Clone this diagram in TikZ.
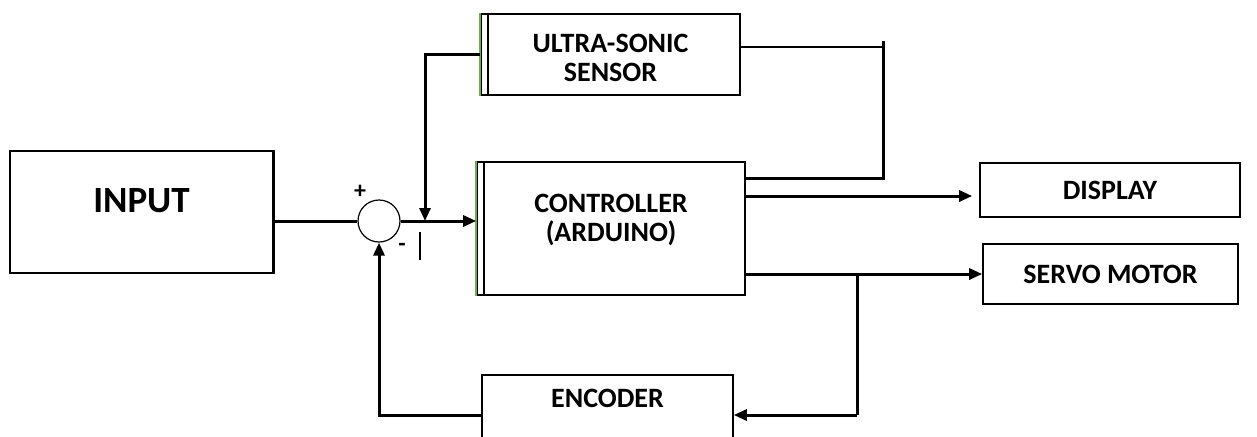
\documentclass[tikz,border=0pt]{standalone}
\usepackage{fontspec}
\setmainfont{Carlito}
\usepackage{xcolor}
\usetikzlibrary{arrows.meta}
\definecolor{edgegreen}{HTML}{70AD47}

\begin{document}
\begin{tikzpicture}[x=0.5pt,y=-0.5pt,
    block/.style={draw, line width=0.8pt, inner sep=0pt, align=center,
        font=\bfseries\fontsize{14}{14.75}\selectfont},
    link/.style={line width=1.5pt},
    arr/.style={link, -{Triangle[length=6.5pt,width=5.5pt]}},
    greenedge/.style={edgegreen, line width=1.2pt}]
                    \useasboundingbox (0,0) rectangle (1257,436);

                    % Blocks
                    \node[block, anchor=north, minimum width=131.5pt, text height=31pt, text depth=30pt,
                        font=\bfseries\fontsize{18.5}{20}\selectfont] (input) at (141.5,150) {INPUT};
                    \node[block, anchor=north, minimum width=129.5pt, text height=34pt, text depth=6.5pt] (us) at (610.5,13) {ULTRA-SONIC\\SENSOR};
                    \node[block, anchor=north, minimum width=134pt, text height=40pt, text depth=26.5pt] (ctrl) at (611,161) {CONTROLLER\\(ARDUINO)};
                    \node[block, minimum width=130pt, minimum height=27pt] (disp) at (1110,190) {DISPLAY};
                    \node[block, minimum width=127.5pt, minimum height=30pt] (servo) at (1110.5,274) {SERVO MOTOR};
                    \node[block, anchor=north, minimum width=125.5pt, text height=16.25pt, text depth=60pt] (enc) at (607.5,374) {ENCODER};

                    % Double left edges
                    \draw[greenedge] (us.north west) -- (us.south west);
                    \draw[line width=0.8pt] ([xshift=4pt]us.north west) -- ([xshift=4pt]us.south west);
                    \draw[greenedge] (ctrl.north west) -- (ctrl.south west);
                    \draw[line width=0.8pt] ([xshift=4pt]ctrl.north west) -- ([xshift=4pt]ctrl.south west);
                    \draw[link] (input.north east) -- (input.south east);

                    % Summing junction
                    \node[circle, draw, line width=0.6pt, minimum size=21pt, inner sep=0pt] (sum) at (379,221) {};
                    \node[font=\bfseries\fontsize{12}{12}\selectfont] (plus) at (360,192) {+};
                    \node[font=\bfseries\fontsize{12}{12}\selectfont] (minus) at (402,247) {-};

                    % Junction points
                    \coordinate (tap) at (425,221);
                    \coordinate (fbtop) at (883,41);
                    \coordinate (fbmid) at (883,47);
                    \coordinate (fbbot) at (883,178);
                    \coordinate (dispin) at ([yshift=-3pt]disp.west);
                    \coordinate (brk) at (857,274);
                    \coordinate (fbr) at (857,415);

                    % Forward path
                    \draw[link] (input.east |- sum.west) -- (sum.west);
                    \draw[arr] (sum.east) -- (sum.east -| ctrl.west);
                    \draw[arr] (us.west) -| (tap);
                    \draw[line width=0.6pt] (420,232) -- (420,260);

                    % Sensor to controller
                    \draw[line width=1pt] (us.east |- fbmid) -- (fbmid);
                    \draw[link] (fbtop) -- (fbbot) -- (fbbot -| ctrl.east);

                    % Outputs
                    \draw[arr] (dispin -| ctrl.east) -- ([xshift=-3.5pt]dispin);
                    \draw[arr] (servo.west -| ctrl.east) -- (servo.west);

                    % Feedback
                    \draw[link] (brk) -- (fbr);
                    \draw[arr] (fbr) -- (fbr -| enc.east);
                    \draw[arr] (fbr -| enc.west) -| (sum.south);
                \end{tikzpicture}
\end{document}
